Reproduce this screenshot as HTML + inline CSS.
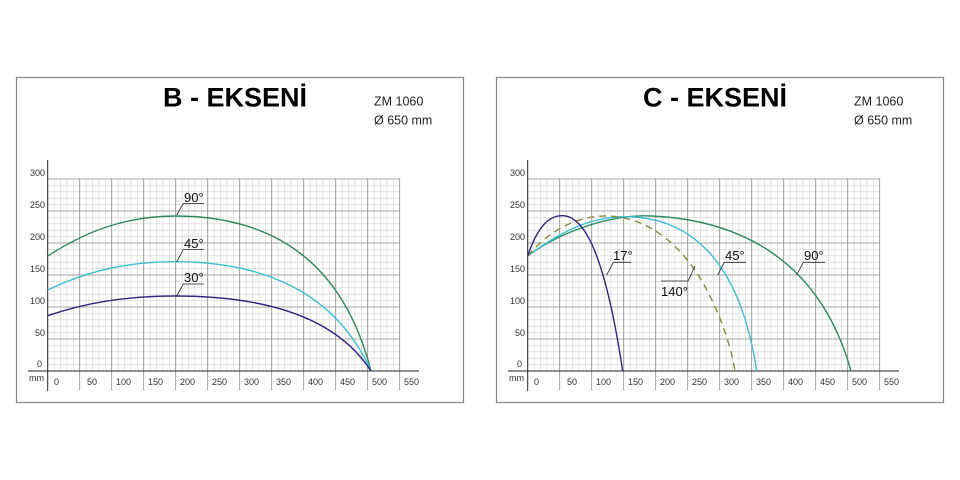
<!DOCTYPE html>
<html><head><meta charset="utf-8"><style>
html,body{margin:0;padding:0;background:#fff;}
svg{display:block;font-family:"Liberation Sans",Arial,sans-serif;}
</style></head><body>
<svg width="960" height="480" viewBox="0 0 960 480" xmlns="http://www.w3.org/2000/svg">
<defs>
<g id="grid">
  <rect x="16.5" y="77.5" width="447" height="325" fill="#fff" stroke="#888" stroke-width="1.2"/>
  <g stroke="#d4d4d4" stroke-width="0.6">
    <path d="M54.1 179V371M60.5 179V371M66.9 179V371M73.3 179V371M86.1 179V371M92.5 179V371M98.9 179V371M105.3 179V371M118.1 179V371M124.5 179V371M130.9 179V371M137.3 179V371M150.1 179V371M156.5 179V371M162.9 179V371M169.3 179V371M182.1 179V371M188.5 179V371M194.9 179V371M201.3 179V371M214.1 179V371M220.5 179V371M226.9 179V371M233.3 179V371M246.1 179V371M252.5 179V371M258.9 179V371M265.3 179V371M278.1 179V371M284.5 179V371M290.9 179V371M297.3 179V371M310.1 179V371M316.5 179V371M322.9 179V371M329.3 179V371M342.1 179V371M348.5 179V371M354.9 179V371M361.3 179V371M374.1 179V371M380.5 179V371M386.9 179V371M393.3 179V371"/>
    <path d="M47.7 185.4H400M47.7 191.8H400M47.7 198.2H400M47.7 204.6H400M47.7 217.4H400M47.7 223.8H400M47.7 230.2H400M47.7 236.6H400M47.7 249.4H400M47.7 255.8H400M47.7 262.2H400M47.7 268.6H400M47.7 281.4H400M47.7 287.8H400M47.7 294.2H400M47.7 300.6H400M47.7 313.4H400M47.7 319.8H400M47.7 326.2H400M47.7 332.6H400M47.7 345.4H400M47.7 351.8H400M47.7 358.2H400M47.7 364.6H400"/>
  </g>
  <g stroke="#8a8a8a" stroke-width="0.8">
    <path d="M79.7 179V390M111.7 179V390M143.7 179V390M175.7 179V390M207.7 179V390M239.7 179V390M271.7 179V390M303.7 179V390M335.7 179V390M367.7 179V390M399.7 179V390"/>
    <path d="M47.7 179H400M47.7 211H400M47.7 243H400M47.7 275H400M47.7 307H400M47.7 339H400"/>
  </g>
  <path d="M47.7 160V391M28 371H419" stroke="#222" stroke-width="1"/>
  <g font-size="9" fill="#333">
    <text x="30" y="176">300</text><text x="30" y="208">250</text><text x="30" y="240">200</text>
    <text x="30" y="272">150</text><text x="30" y="304">100</text><text x="35" y="336">50</text>
    <text x="37" y="367">0</text>
    <text x="29" y="381">mm</text>
    <text x="54" y="385">0</text><text x="87" y="385">50</text><text x="116" y="385">100</text>
    <text x="148" y="385">150</text><text x="180" y="385">200</text><text x="212" y="385">250</text>
    <text x="244" y="385">300</text><text x="276" y="385">350</text><text x="308" y="385">400</text>
    <text x="340" y="385">450</text><text x="372" y="385">500</text><text x="404" y="385">550</text>
  </g>
</g>
</defs>

<use href="#grid"/>
<text x="163" y="106.5" font-size="27" font-weight="bold" fill="#000">B - EKSENİ</text>
<text x="374" y="105.5" font-size="12.5" fill="#222">ZM 1060</text>
<text x="374" y="124.5" font-size="12.5" fill="#222">Ø 650 mm</text>
<g fill="none" stroke-width="1.4">
  <path d="M47.7 256 C85 232 125 216 175 216 C260 216 340 250 371 371" stroke="#2f8a5e"/>
  <path d="M47.7 290 C85 272 125 261.7 175 261.7 C260 261.7 335 290 371 371" stroke="#3bbfd6"/>
  <path d="M47.7 315.7 C85 303 125 296 175 296 C260 296 335 315 371 371" stroke="#3a2380"/>
</g>
<g stroke="#222" stroke-width="0.8" fill="none">
  <path d="M176.7 215L183.3 203.5H204"/>
  <path d="M176.7 262L183.3 249.5H204"/>
  <path d="M176.7 296L183.3 284H204"/>
</g>
<g font-size="13" fill="#111">
  <text x="184" y="202">90°</text><text x="184" y="248">45°</text><text x="184" y="282">30°</text>
</g>

<g transform="translate(480,0)">
  <use href="#grid"/>
  <text x="163" y="106.5" font-size="27" font-weight="bold" fill="#000">C - EKSENİ</text>
  <text x="374" y="105.5" font-size="12.5" fill="#222">ZM 1060</text>
  <text x="374" y="124.5" font-size="12.5" fill="#222">Ø 650 mm</text>
</g>
<g fill="none" stroke-width="1.4">
  <path d="M527.7 256 C560 232 610 214 651.7 216 C740 220 820 260 851 371" stroke="#2f8a5e"/>
  <path d="M527.7 256 C560 232 590 216.7 625 216.7 C690 216.7 740 260 756.7 371" stroke="#3bbfd6"/>
  <path d="M527.7 256 C548 232 575 216 605 216 C640 216 670 235 695 270 C715 300 730 340 735 371" stroke="#8a8a3a" stroke-dasharray="7,5"/>
  <path d="M527.7 256 C538 225 550 215 563.3 215.7 C585 217 605 255 622.7 371" stroke="#3a2380"/>
</g>
<g stroke="#222" stroke-width="0.8" fill="none">
  <path d="M606.7 275L613.3 262.3H631"/>
  <path d="M717.7 275L724.3 262.3H746"/>
  <path d="M796.7 275L803.3 262.3H825"/>
  <path d="M695 266L688 281H661"/>
</g>
<g font-size="13" fill="#111">
  <text x="613" y="260">17°</text><text x="725" y="260">45°</text><text x="804" y="260">90°</text>
  <text x="661" y="296">140°</text>
</g>
</svg>
</body></html>
